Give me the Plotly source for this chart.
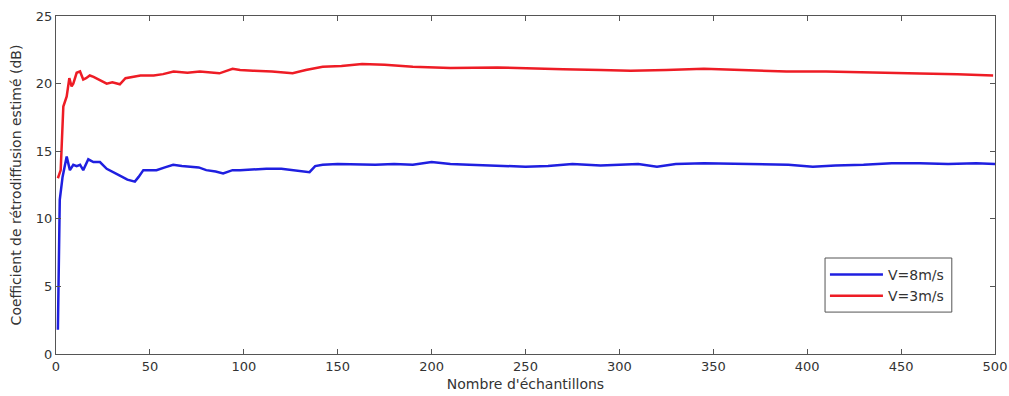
import plotly.graph_objects as go

# Blue series: V=8m/s
x_v8 = [1, 2, 3.5, 5.7, 7.4, 9.2, 11, 12.8, 14.5, 17.2, 19.9, 23.4, 27, 30, 34, 38, 42, 44, 46.5, 50, 53.5,
        58, 62.4, 67, 71, 76, 80, 85, 89, 94, 98, 105, 112, 120, 126, 130, 135, 138, 142, 150, 160, 170,
        180, 190, 200, 210, 220, 235, 250, 262, 275, 290, 300, 310, 320, 330, 345, 360, 375, 390, 403,
        415, 430, 445, 460, 475, 490, 500]
y_v8 = [1.8, 11.4, 13.1, 14.6, 13.6, 14.0, 13.9, 14.0, 13.6, 14.4, 14.2, 14.2, 13.7, 13.5, 13.2, 12.9, 12.75, 13.1,
        13.6, 13.6, 13.6, 13.8, 14.0, 13.9, 13.85, 13.8, 13.6, 13.5, 13.36, 13.6, 13.6, 13.65, 13.7, 13.7, 13.6,
        13.55, 13.45, 13.9, 14.0, 14.05, 14.0, 14.0, 14.05, 14.0, 14.2, 14.05, 14.0, 13.95, 13.85, 13.9, 14.05,
        13.95, 14.0, 14.05, 13.85, 14.05, 14.1, 14.05, 14.0, 14.0, 13.85, 13.95, 14.0, 14.1, 14.1, 14.05, 14.1, 14.05]

# Red series: V=3m/s
x_v3 = [1, 2.5, 3.9, 5.7, 7.1, 8.3, 9.2, 11, 12.8, 14.5, 16, 18, 20, 23, 27, 30, 34, 37, 41, 45, 52, 57,
        62.6, 70, 76.6, 82, 87, 94, 98, 105, 115, 126, 133, 142, 152, 163, 175, 190, 210, 235, 255, 270,
        290, 306, 325, 345, 365, 389, 410, 425, 442, 460, 480, 499]
y_v3 = [13.0, 13.6, 18.3, 19.05, 20.4, 19.8, 20.0, 20.8, 20.9, 20.3, 20.4, 20.6, 20.5, 20.3, 20.0, 20.1, 19.95, 20.4,
        20.5, 20.6, 20.6, 20.7, 20.9, 20.8, 20.9, 20.85, 20.76, 21.1, 21.0, 20.95, 20.9, 20.76, 21.0, 21.25, 21.3,
        21.45, 21.4, 21.25, 21.15, 21.2, 21.15, 21.06, 21.0, 20.95, 21.0, 21.1, 21.0, 20.9, 20.9, 20.85, 20.76,
        20.75, 20.7, 20.6]

x_ticks = [0, 50, 100, 150, 200, 250, 300, 350, 400, 450, 500]
y_ticks = [0, 5, 10, 15, 20, 25]

fig = go.Figure()
fig.add_trace(go.Scatter(x=x_v8, y=y_v8, mode="lines", name="V=8m/s",
                         line=dict(color="#1f1fe0", width=2.5)))
fig.add_trace(go.Scatter(x=x_v3, y=y_v3, mode="lines", name="V=3m/s",
                         line=dict(color="#ee1c25", width=2.5)))

FAM = "DejaVu Sans, Liberation Sans, Arial, sans-serif"
tick_font = dict(family=FAM, size=13, color="#333333")
title_font = dict(family=FAM, size=14, color="#333333")
axis_common = dict(showline=True, linecolor="#555555", linewidth=1, mirror="ticks",
                   ticks="inside", ticklen=5, tickcolor="#555555", showgrid=False, zeroline=False,
                   tickfont=tick_font, automargin=False)
fig.update_xaxes(range=[0, 500], tickvals=x_ticks,
                 title=dict(text="Nombre d'échantillons", font=title_font, standoff=6), **axis_common)
fig.update_yaxes(range=[0, 25], tickvals=y_ticks, ticklabelstandoff=0,
                 title=dict(text="Coefficient de rétrodiffusion estimé (dB)", font=title_font, standoff=10),
                 **axis_common)

# legend frame
fig.add_shape(type="rect", xref="paper", yref="paper", x0=0.819, x1=0.954, y0=0.124, y1=0.284,
              line=dict(color="#555555", width=1), fillcolor="white", layer="above")

fig.update_layout(
    width=1009, height=396,
    margin=dict(l=56, r=14, t=16, b=42),
    paper_bgcolor="white", plot_bgcolor="white",
    font=tick_font,
    showlegend=True,
    legend=dict(x=0.8189, y=0.281, xanchor="left", yanchor="top",
                bgcolor="rgba(0,0,0,0)", borderwidth=0,
                font=dict(family=FAM, size=14, color="#333333"),
                tracegroupgap=0, itemwidth=53),
)

fig.write_html("out.html", config={"displayModeBar": False},
               post_script="document.body.style.margin='0';document.body.style.overflow='hidden';")
